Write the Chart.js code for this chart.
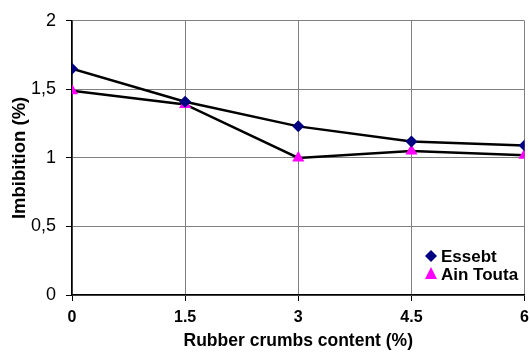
<!DOCTYPE html>
<html>
<head>
<meta charset="utf-8">
<script src="https://cdn.jsdelivr.net/npm/chart.js@4"></script>
<style>
  body { margin: 0; overflow: hidden; background: #fff; }
</style>
</head>
<body>
<canvas id="chart" width="536" height="354"></canvas>
<script>
const rubberContent = [0, 1.5, 3, 4.5, 6];
const essebt = [1.65, 1.41, 1.23, 1.12, 1.09];
const ainTouta = [1.49, 1.39, 1.0, 1.05, 1.02];
const yTicks = [0, 0.5, 1, 1.5, 2];

function pts(vals) {
  return rubberContent.map((x, i) => ({ x: x, y: vals[i] }));
}

const FONT = "'Liberation Sans', Arial, sans-serif";

// legend drawn inside the plot, bottom right
const innerLegend = {
  id: "innerLegend",
  afterDraw(chart) {
    const ctx = chart.ctx;
    const ds = chart.data.datasets;
    ctx.save();
    ctx.font = "bold 17px " + FONT;
    ctx.textBaseline = "middle";
    ds.forEach((d, i) => {
      const y = 256 + i * 18;
      const x = 431;
      ctx.fillStyle = d.pointBackgroundColor;
      ctx.beginPath();
      if (d.pointStyle === "rectRot") {
        ctx.moveTo(x, y - 6); ctx.lineTo(x + 6, y); ctx.lineTo(x, y + 6); ctx.lineTo(x - 6, y);
      } else {
        ctx.moveTo(x, y - 7); ctx.lineTo(x + 6, y + 5); ctx.lineTo(x - 6, y + 5);
      }
      ctx.closePath();
      ctx.fill();
      ctx.fillStyle = "#000";
      ctx.fillText(d.label, x + 10, y + 1);
    });
    ctx.restore();
  }
};

new Chart(document.getElementById("chart"), {
  type: "line",
  data: {
    datasets: [
      {
        label: "Essebt",
        data: pts(essebt),
        borderColor: "#000",
        borderWidth: 2.5,
        pointStyle: "rectRot",
        pointRadius: 6,
        pointBackgroundColor: "#000080",
        pointBorderColor: "#000080",
        pointBorderWidth: 0
      },
      {
        label: "Ain Touta",
        data: pts(ainTouta),
        borderColor: "#000",
        borderWidth: 2.5,
        pointStyle: "triangle",
        pointRadius: 7,
        pointBackgroundColor: "#ff00ff",
        pointBorderColor: "#ff00ff",
        pointBorderWidth: 0
      }
    ]
  },
  options: {
    responsive: false,
    animation: false,
    layout: { padding: { top: 18, right: 9, left: 0, bottom: 0 } },
    plugins: { legend: { display: false }, tooltip: { enabled: false } },
    scales: {
      x: {
        type: "linear",
        min: 0,
        max: 6,
        afterBuildTicks: s => { s.ticks = rubberContent.map(v => ({ value: v })); },
        afterFit: s => { s.height = 59; },
        grid: { color: "#808080", lineWidth: 1, tickLength: 6, tickColor: "#000" },
        border: { color: "#000", width: 1.5 },
        ticks: {
          color: "#000",
          font: { family: FONT, size: 16, weight: "bold" },
          padding: 7,
          maxRotation: 0
        },
        title: {
          display: true,
          text: "Rubber crumbs content (%)",
          color: "#000",
          font: { family: FONT, size: 17.5, weight: "bold" },
          padding: { top: 0, bottom: 2 }
        }
      },
      y: {
        min: 0,
        max: 2,
        afterBuildTicks: s => { s.ticks = yTicks.map(v => ({ value: v })); },
        afterFit: s => { s.width = 72; },
        grid: { color: "#808080", lineWidth: 1, tickLength: 6, tickColor: "#000" },
        border: { color: "#000", width: 1.5 },
        ticks: {
          color: "#000",
          font: { family: FONT, size: 18 },
          padding: 10,
          callback: v => String(v).replace(".", ",")
        },
        title: {
          display: true,
          text: "Imbibition (%)",
          color: "#000",
          font: { family: FONT, size: 18.5, weight: "bold" },
          padding: { top: 9, bottom: 0 }
        }
      }
    }
  },
  plugins: [innerLegend]
});
</script>
</body>
</html>
